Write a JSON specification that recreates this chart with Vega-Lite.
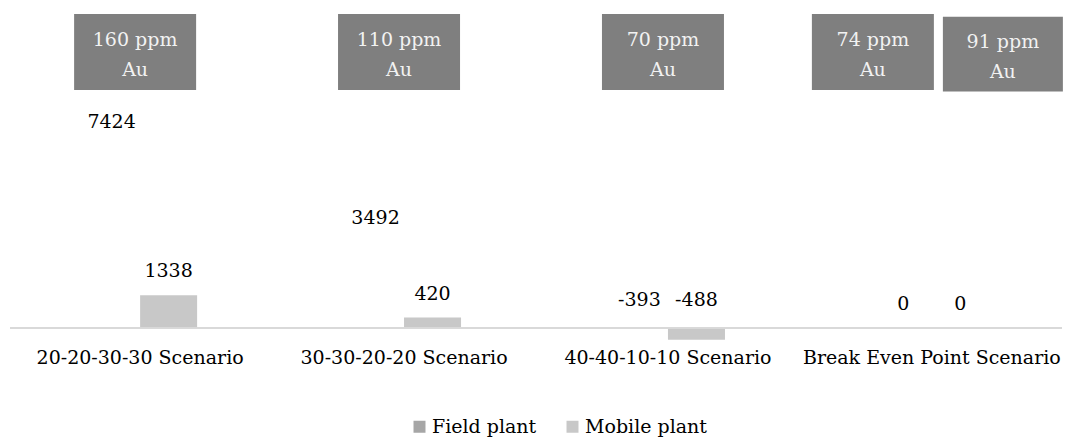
{
  "$schema": "https://vega.github.io/schema/vega-lite/v6.json",
  "width": 1052,
  "height": 335,
  "autosize": {"type": "none"},
  "padding": {"left": 10, "top": 10, "right": 25, "bottom": 96},
  "background": "white",
  "config": {"view": {"stroke": null}, "font": "DejaVu Serif"},
  "datasets": {
    "bars": [
      {"scenario": "20-20-30-30 Scenario", "series": "Field plant", "value": 7424},
      {"scenario": "20-20-30-30 Scenario", "series": "Mobile plant", "value": 1338},
      {"scenario": "30-30-20-20 Scenario", "series": "Field plant", "value": 3492},
      {"scenario": "30-30-20-20 Scenario", "series": "Mobile plant", "value": 420},
      {"scenario": "40-40-10-10 Scenario", "series": "Field plant", "value": -393},
      {"scenario": "40-40-10-10 Scenario", "series": "Mobile plant", "value": -488},
      {"scenario": "Break Even Point Scenario", "series": "Field plant", "value": 0},
      {"scenario": "Break Even Point Scenario", "series": "Mobile plant", "value": 0}
    ],
    "boxes": [
      {"scenario": "20-20-30-30 Scenario", "label": "160 ppm\nAu", "slot": "center"},
      {"scenario": "30-30-20-20 Scenario", "label": "110 ppm\nAu", "slot": "center"},
      {"scenario": "40-40-10-10 Scenario", "label": "70 ppm\nAu", "slot": "center"},
      {"scenario": "Break Even Point Scenario", "label": "74 ppm\nAu", "slot": "left"},
      {"scenario": "Break Even Point Scenario", "label": "91 ppm\nAu", "slot": "right"}
    ]
  },
  "encoding": {
    "x": {
      "field": "scenario",
      "type": "nominal",
      "sort": ["20-20-30-30 Scenario", "30-30-20-20 Scenario", "40-40-10-10 Scenario", "Break Even Point Scenario"],
      "scale": {"paddingInner": 0.568, "paddingOuter": 0.277},
      "axis": {
        "title": null,
        "labelAngle": 0,
        "labelFontSize": 19,
        "labelFont": "DejaVu Serif",
        "labelColor": "#000000",
        "labelPadding": 3,
        "labelLimit": 400,
        "domain": false,
        "ticks": false,
        "grid": false
      }
    }
  },
  "layer": [
    {
      "data": {"name": "bars"},
      "mark": {"type": "bar"},
      "encoding": {
        "xOffset": {"field": "series", "type": "nominal", "scale": {"paddingInner": 0, "paddingOuter": 0}},
        "y": {"field": "value", "type": "quantitative", "scale": {"domain": [-700, 13000], "nice": false, "zero": false}, "axis": null},
        "color": {
          "field": "series",
          "type": "nominal",
          "scale": {"domain": ["Field plant", "Mobile plant"], "range": ["#a6a6a6", "#c8c8c8"]},
          "legend": {
            "orient": "none",
            "legendX": 400,
            "legendY": 407,
            "direction": "horizontal",
            "title": null,
            "symbolType": "square",
            "symbolSize": 144,
            "symbolStrokeWidth": 0,
            "symbolOpacity": 1,
            "labelFontSize": 19,
            "labelFont": "DejaVu Serif",
            "labelColor": "#000000",
            "columnPadding": 26,
            "labelOffset": 3,
            "padding": 0
          }
        },
        "opacity": {"condition": {"test": "datum.series === 'Field plant'", "value": 0}, "value": 1}
      }
    },
    {
      "data": {"name": "bars"},
      "mark": {"type": "rule", "color": "#d9d9d9", "strokeWidth": 1.5},
      "encoding": {"y": {"datum": 0}, "x": null}
    },
    {
      "data": {"name": "bars"},
      "transform": [{"filter": "datum.value >= 0"}],
      "mark": {"type": "text", "fontSize": 19, "font": "DejaVu Serif", "color": "#000000", "baseline": "middle", "dy": -24},
      "encoding": {
        "xOffset": {"field": "series", "type": "nominal"},
        "y": {"field": "value", "type": "quantitative"},
        "text": {"field": "value", "type": "nominal"}
      }
    },
    {
      "data": {"name": "bars"},
      "transform": [{"filter": "datum.value < 0"}],
      "mark": {"type": "text", "fontSize": 19, "font": "DejaVu Serif", "color": "#000000", "baseline": "middle", "dy": -28},
      "encoding": {
        "xOffset": {"field": "series", "type": "nominal"},
        "y": {"datum": 0},
        "text": {"field": "value", "type": "nominal"}
      }
    },
    {
      "data": {"name": "boxes"},
      "transform": [{"filter": "datum.slot === 'center'"}],
      "encoding": {"y": {"datum": 11280}},
      "layer": [
        {"mark": {"type": "point", "shape": "M-1,-0.623H1V0.623H-1Z", "size": 14884, "filled": true, "fill": "#7f7f7f", "opacity": 1, "strokeWidth": 0, "xOffset": -5}},
        {"mark": {"type": "text", "fontSize": 19, "font": "DejaVu Serif", "color": "#f2f2f2", "baseline": "middle", "lineBreak": "\n", "lineHeight": 30, "dy": -12, "xOffset": -5}, "encoding": {"text": {"field": "label"}}}
      ]
    },
    {
      "data": {"name": "boxes"},
      "transform": [{"filter": "datum.slot === 'left'"}],
      "encoding": {"y": {"datum": 11280}},
      "layer": [
        {"mark": {"type": "point", "shape": "M-1,-0.623H1V0.623H-1Z", "size": 14884, "filled": true, "fill": "#7f7f7f", "opacity": 1, "strokeWidth": 0, "xOffset": -59}},
        {"mark": {"type": "text", "fontSize": 19, "font": "DejaVu Serif", "color": "#f2f2f2", "baseline": "middle", "lineBreak": "\n", "lineHeight": 30, "dy": -12, "xOffset": -59}, "encoding": {"text": {"field": "label"}}}
      ]
    },
    {
      "data": {"name": "boxes"},
      "transform": [{"filter": "datum.slot === 'right'"}],
      "encoding": {"y": {"datum": 11200}},
      "layer": [
        {"mark": {"type": "point", "shape": "M-1,-0.623H1V0.623H-1Z", "size": 14400, "filled": true, "fill": "#7f7f7f", "opacity": 1, "strokeWidth": 0, "xOffset": 71}},
        {"mark": {"type": "text", "fontSize": 19, "font": "DejaVu Serif", "color": "#f2f2f2", "baseline": "middle", "lineBreak": "\n", "lineHeight": 30, "dy": -12, "xOffset": 71}, "encoding": {"text": {"field": "label"}}}
      ]
    }
  ]
}
